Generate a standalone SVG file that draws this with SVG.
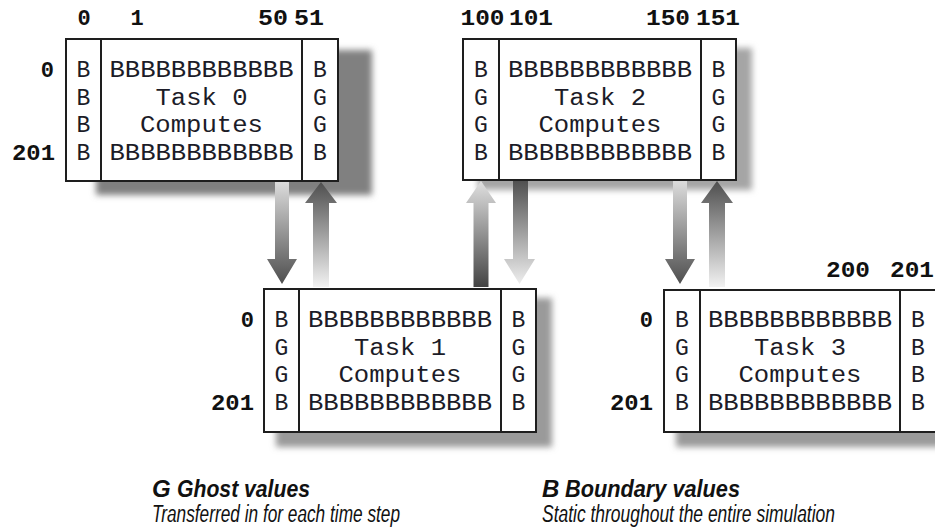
<svg xmlns="http://www.w3.org/2000/svg" width="935" height="531" viewBox="0 0 935 531">
<style>
.box{fill:#fff;stroke:#1e1e1e;stroke-width:2}
.div{stroke:#1e1e1e;stroke-width:2}
.m{font-family:"Liberation Mono","DejaVu Sans Mono",monospace;font-size:23px;fill:#1c1c28;text-anchor:middle}
.lb{font-family:"Liberation Mono","DejaVu Sans Mono",monospace;font-size:22px;font-weight:bold;fill:#111}
.c{text-anchor:middle}
.e{text-anchor:end}
.sh{filter:url(#blur)}
.lg1{font-family:"Liberation Sans",Arial,sans-serif;font-size:24px;font-weight:bold;font-style:italic;fill:#111}
.lg2{font-family:"Liberation Sans",Arial,sans-serif;font-size:23px;font-style:italic;fill:#111}
</style>
<defs>
<filter id="blur" x="-10%" y="-10%" width="120%" height="130%"><feGaussianBlur stdDeviation="3"/></filter>
<linearGradient id="gDown" x1="0" y1="0" x2="0" y2="1"><stop offset="0" stop-color="#dcdcdc"/><stop offset="1" stop-color="#4e4e4e"/></linearGradient>
<linearGradient id="gUp" x1="0" y1="0" x2="0" y2="1"><stop offset="0" stop-color="#4e4e4e"/><stop offset="1" stop-color="#f2f2f2"/></linearGradient>
<linearGradient id="gUpRev" x1="0" y1="0" x2="0" y2="1"><stop offset="0" stop-color="#e0e0e0"/><stop offset="1" stop-color="#444"/></linearGradient>
<linearGradient id="gDownRev" x1="0" y1="0" x2="0" y2="1"><stop offset="0" stop-color="#505050"/><stop offset="1" stop-color="#eeeeee"/></linearGradient>
</defs>

<g id="task0">
<rect class="sh" x="96" y="50" width="276" height="145" fill="#808080"/>
<rect class="box" x="66" y="39" width="272" height="142"/>
<line class="div" x1="101" y1="39" x2="101" y2="181"/>
<line class="div" x1="302" y1="39" x2="302" y2="181"/>
<text class="m" x="83.5" y="77">B</text><text class="m" x="83.5" y="104.5">B</text><text class="m" x="83.5" y="132">B</text><text class="m" x="83.5" y="160">B</text>
<text class="m" x="201.5" y="77" textLength="184" lengthAdjust="spacingAndGlyphs">BBBBBBBBBBBB</text>
<text class="m" x="201.5" y="104.5" textLength="92" lengthAdjust="spacingAndGlyphs">Task 0</text>
<text class="m" x="201.5" y="132" textLength="123" lengthAdjust="spacingAndGlyphs">Computes</text>
<text class="m" x="201.5" y="160" textLength="184" lengthAdjust="spacingAndGlyphs">BBBBBBBBBBBB</text>
<text class="m" x="320" y="77">B</text><text class="m" x="320" y="104.5">G</text><text class="m" x="320" y="132">G</text><text class="m" x="320" y="160">B</text>
<text class="lb c" x="84" y="25">0</text>
<text class="lb c" x="137" y="25">1</text>
<text class="lb c" x="273" y="25" textLength="30" lengthAdjust="spacingAndGlyphs">50</text>
<text class="lb c" x="309" y="25" textLength="30" lengthAdjust="spacingAndGlyphs">51</text>
<text class="lb e" x="54" y="77">0</text>
<text class="lb e" x="55" y="160" textLength="43" lengthAdjust="spacingAndGlyphs">201</text>
</g>

<g id="task2">
<rect class="sh" x="478" y="48" width="274" height="142" fill="#a5a5a5"/>
<rect class="box" x="463" y="39" width="273" height="141"/>
<line class="div" x1="499" y1="39" x2="499" y2="180"/>
<line class="div" x1="701" y1="39" x2="701" y2="180"/>
<text class="m" x="481" y="77">B</text><text class="m" x="481" y="104.5">G</text><text class="m" x="481" y="132">G</text><text class="m" x="481" y="160">B</text>
<text class="m" x="600" y="77" textLength="184" lengthAdjust="spacingAndGlyphs">BBBBBBBBBBBB</text>
<text class="m" x="600" y="104.5" textLength="92" lengthAdjust="spacingAndGlyphs">Task 2</text>
<text class="m" x="600" y="132" textLength="123" lengthAdjust="spacingAndGlyphs">Computes</text>
<text class="m" x="600" y="160" textLength="184" lengthAdjust="spacingAndGlyphs">BBBBBBBBBBBB</text>
<text class="m" x="718.5" y="77">B</text><text class="m" x="718.5" y="104.5">G</text><text class="m" x="718.5" y="132">G</text><text class="m" x="718.5" y="160">B</text>
<text class="lb c" x="482.5" y="25" textLength="44" lengthAdjust="spacingAndGlyphs">100</text>
<text class="lb c" x="531" y="25" textLength="44" lengthAdjust="spacingAndGlyphs">101</text>
<text class="lb c" x="668" y="25" textLength="44" lengthAdjust="spacingAndGlyphs">150</text>
<text class="lb c" x="718" y="25" textLength="44" lengthAdjust="spacingAndGlyphs">151</text>
</g>

<g id="task1">
<rect class="sh" x="276" y="298" width="276" height="149" fill="#9a9a9a"/>
<rect class="box" x="264" y="289" width="272" height="143"/>
<line class="div" x1="299" y1="289" x2="299" y2="432"/>
<line class="div" x1="501" y1="289" x2="501" y2="432"/>
<text class="m" x="281.5" y="327">B</text><text class="m" x="281.5" y="354.5">G</text><text class="m" x="281.5" y="382">G</text><text class="m" x="281.5" y="410">B</text>
<text class="m" x="400" y="327" textLength="184" lengthAdjust="spacingAndGlyphs">BBBBBBBBBBBB</text>
<text class="m" x="400" y="354.5" textLength="92" lengthAdjust="spacingAndGlyphs">Task 1</text>
<text class="m" x="400" y="382" textLength="123" lengthAdjust="spacingAndGlyphs">Computes</text>
<text class="m" x="400" y="410" textLength="184" lengthAdjust="spacingAndGlyphs">BBBBBBBBBBBB</text>
<text class="m" x="518.5" y="327">B</text><text class="m" x="518.5" y="354.5">G</text><text class="m" x="518.5" y="382">G</text><text class="m" x="518.5" y="410">B</text>
<text class="lb e" x="254" y="327">0</text>
<text class="lb e" x="254" y="410" textLength="43" lengthAdjust="spacingAndGlyphs">201</text>
</g>

<g id="task3">
<rect class="sh" x="676" y="299" width="276" height="148" fill="#9a9a9a"/>
<rect class="box" x="664" y="290" width="272" height="142"/>
<line class="div" x1="700" y1="290" x2="700" y2="432"/>
<line class="div" x1="900" y1="290" x2="900" y2="432"/>
<text class="m" x="682" y="327">B</text><text class="m" x="682" y="354.5">G</text><text class="m" x="682" y="382">G</text><text class="m" x="682" y="410">B</text>
<text class="m" x="800" y="327" textLength="184" lengthAdjust="spacingAndGlyphs">BBBBBBBBBBBB</text>
<text class="m" x="800" y="354.5" textLength="92" lengthAdjust="spacingAndGlyphs">Task 3</text>
<text class="m" x="800" y="382" textLength="123" lengthAdjust="spacingAndGlyphs">Computes</text>
<text class="m" x="800" y="410" textLength="184" lengthAdjust="spacingAndGlyphs">BBBBBBBBBBBB</text>
<text class="m" x="918" y="327">B</text><text class="m" x="918" y="354.5">B</text><text class="m" x="918" y="382">B</text><text class="m" x="918" y="410">B</text>
<text class="lb e" x="653" y="327">0</text>
<text class="lb e" x="653" y="410" textLength="43" lengthAdjust="spacingAndGlyphs">201</text>
<text class="lb c" x="848" y="277" textLength="44" lengthAdjust="spacingAndGlyphs">200</text>
<text class="lb c" x="912" y="277" textLength="44" lengthAdjust="spacingAndGlyphs">201</text>
</g>

<g id="connectors">
<path d="M275,182 H289 V259 H297 L282,284 L267,259 H275 Z" fill="url(#gDown)"/>
<path d="M321,182 L337,203 H329 V287 H313 V203 H305 Z" fill="url(#gUp)"/>
<path d="M481,181 L496,203 H488.5 V287 H473.5 V203 H466 Z" fill="url(#gUpRev)"/>
<path d="M513,181 H528 V259 H535 L519.5,284 L504,259 H513 Z" fill="url(#gDownRev)"/>
<path d="M673,181 H687 V259 H695 L680,284 L665,259 H673 Z" fill="url(#gDown)"/>
<path d="M717,181 L733,203 H725 V287 H709 V203 H701 Z" fill="url(#gUp)"/>
</g>

<g id="legend">
<text class="lg1" x="152" y="497">G</text>
<text class="lg1" x="177" y="497" textLength="133" lengthAdjust="spacingAndGlyphs">Ghost values</text>
<text class="lg2" x="152" y="522" textLength="248" lengthAdjust="spacingAndGlyphs">Transferred in for each time step</text>
<text class="lg1" x="542" y="497">B</text>
<text class="lg1" x="565" y="497" textLength="175" lengthAdjust="spacingAndGlyphs">Boundary values</text>
<text class="lg2" x="542" y="522" textLength="293" lengthAdjust="spacingAndGlyphs">Static throughout the entire simulation</text>
</g>
</svg>
